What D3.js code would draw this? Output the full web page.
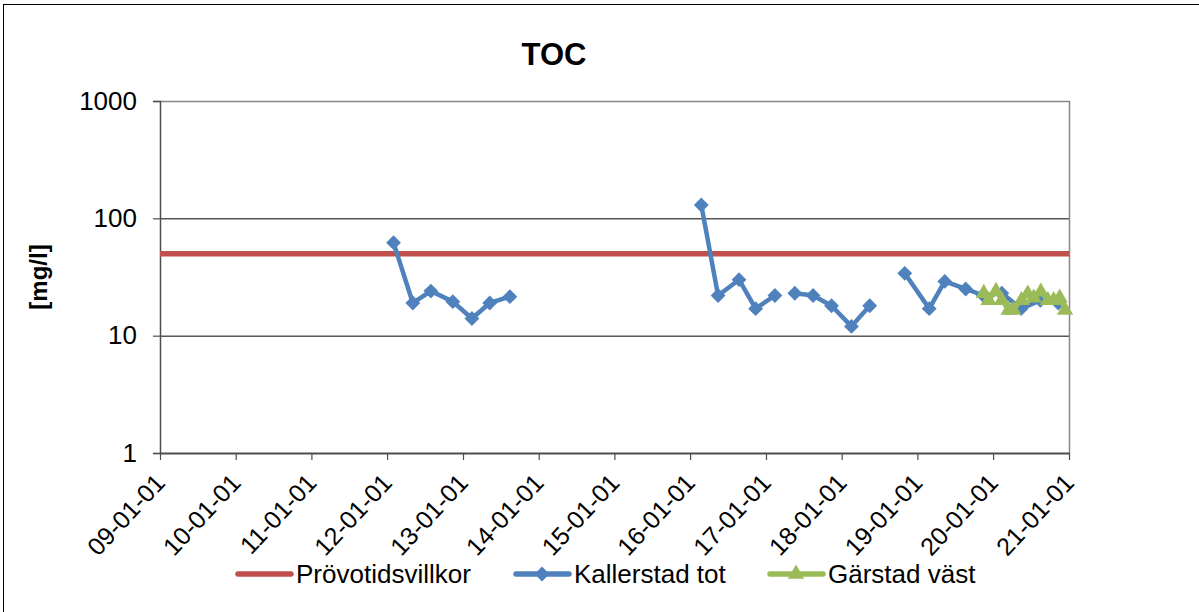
<!DOCTYPE html>
<meta charset="utf-8">
<title>TOC</title>
<style>
  body { margin: 0; background: #fff; }
  text { font-family: "Liberation Sans", Arial, sans-serif; fill: #000; }
</style>
<body>
<script src="https://d3js.org/d3.v7.min.js"></script>
<script>

var xTicks = ["2009-01-01","2010-01-01","2011-01-01","2012-01-01","2013-01-01","2014-01-01",
              "2015-01-01","2016-01-01","2017-01-01","2018-01-01","2019-01-01","2020-01-01","2021-01-01"];
var yTicks = [1, 10, 100, 1000];

var limitDates = ["2009-01-01", "2021-01-01"];
var limitValues = [50, 50];

// null = break in the line
var kallerstadDates = ["2012-02-01","2012-05-04","2012-07-30","2012-11-13","2013-02-13","2013-05-10","2013-08-15",
  "2013-11-15",
  "2016-02-24","2016-05-15","2016-08-24","2016-11-12","2017-02-13",
  "2017-03-20",
  "2017-05-20","2017-08-16","2017-11-13","2018-02-17","2018-05-16",
  "2018-08-15",
  "2018-11-01","2019-02-27","2019-05-13","2019-08-22","2019-11-15","2020-02-12","2020-05-15","2020-08-16","2020-11-10"];
var kallerstadValues = [62, 19, 24, 19.5, 14, 19, 21.5,
  null,
  130, 22, 30, 17, 22,
  null,
  23, 22, 18, 12, 18,
  null,
  34, 17, 29, 25, 22, 23, 17, 20, 19];

var garstadDates = ["2019-11-17","2019-12-10","2020-01-15","2020-02-12","2020-03-16","2020-04-07","2020-05-17",
  "2020-06-16","2020-07-15","2020-08-18","2020-09-21","2020-10-19","2020-11-17","2020-12-13"];
var garstadValues = [23, 20, 24, 20, 16.5, 16.5, 20, 22.7, 21, 23.6, 20, 20, 21, 16.5];

var W = 1199, H = 612;
var svg = d3.select('body').append('svg').attr('width', W).attr('height', H);

var parse = d3.timeParse('%Y-%m-%d');
var fmt = d3.timeFormat('%y-%m-%d');

var x = d3.scaleTime().domain([parse(xTicks[0]), parse(xTicks[xTicks.length - 1])]).range([160, 1069]);
var y = d3.scaleLog().domain([1, 1000]).range([453, 101]);

function pairs(dates, values) {
  return dates.map(function(d, i) { return {d: parse(d), v: values[i]}; });
}
var limit = pairs(limitDates, limitValues);
var kall = pairs(kallerstadDates, kallerstadValues);
var gars = pairs(garstadDates, garstadValues);

// outer chart border
svg.append('rect').attr('x', 3.5).attr('y', 4.5).attr('width', 1300).attr('height', 700)
  .attr('fill', 'none').attr('stroke', '#000').attr('stroke-width', 1);

svg.append('text').attr('x', 554).attr('y', 65).attr('text-anchor', 'middle')
  .style('font-size', '31px').style('font-weight', 'bold').text('TOC');

// gridlines
svg.append('g').selectAll('line').data([10, 100]).enter().append('line')
  .attr('x1', 160).attr('x2', 1069)
  .attr('y1', function(d) { return y(d) + 0.5; }).attr('y2', function(d) { return y(d) + 0.5; })
  .attr('stroke', '#000').attr('stroke-width', 1);

// plot frame top/right
svg.append('path').attr('d', 'M160,' + (y(1000) + 0.5) + 'H1069.5V453')
  .attr('fill', 'none').attr('stroke', '#868686').attr('stroke-width', 1.5);

// y axis
var yAxis = svg.append('g').attr('transform', 'translate(160,0)')
  .call(d3.axisLeft(y).tickValues(yTicks).tickFormat(d3.format('d')).tickSize(7).tickPadding(16));
yAxis.select('.domain').attr('stroke', '#4d4d4d').attr('stroke-width', 1.5);
yAxis.selectAll('.tick line').attr('stroke', '#4d4d4d').attr('stroke-width', 1.2);
yAxis.selectAll('text').style('font-size', '26px').attr('font-family', null);

// x axis
var xAxis = svg.append('g').attr('transform', 'translate(0,453)')
  .call(d3.axisBottom(x).tickValues(xTicks.map(parse)).tickFormat(fmt).tickSize(7).tickSizeOuter(0));
xAxis.select('.domain').attr('stroke', '#4d4d4d').attr('stroke-width', 2);
xAxis.selectAll('.tick line').attr('stroke', '#4d4d4d').attr('stroke-width', 1.2);
xAxis.selectAll('text').style('font-size', '25px').attr('font-family', null)
  .attr('text-anchor', 'end').attr('dy', null).attr('y', 0)
  .attr('transform', 'translate(6,31) rotate(-47)');

svg.append('text').attr('transform', 'translate(47,277) rotate(-90)').attr('text-anchor', 'middle')
  .style('font-size', '24px').style('font-weight', 'bold').text('[mg/l]');

var line = d3.line().defined(function(d) { return d.v != null; })
  .x(function(d) { return x(d.d); }).y(function(d) { return y(d.v); });

var red = '#C0504D', blue = '#4F81BD', green = '#9BBB59';

svg.append('path').datum(limit).attr('d', line).attr('fill', 'none')
  .attr('stroke', red).attr('stroke-width', 5.5);

var diamond = d3.symbol().type(d3.symbolSquare).size(110);
var triangle = d3.symbol().type(d3.symbolTriangle).size(115);

svg.append('path').datum(kall).attr('d', line).attr('fill', 'none')
  .attr('stroke', blue).attr('stroke-width', 4.5).attr('stroke-linejoin', 'round');
svg.append('g').selectAll('path').data(kall.filter(function(d) { return d.v != null; })).enter()
  .append('path').attr('d', diamond).attr('fill', blue)
  .attr('transform', function(d) { return 'translate(' + x(d.d) + ',' + y(d.v) + ') rotate(45)'; });

svg.append('path').datum(gars).attr('d', line).attr('fill', 'none')
  .attr('stroke', green).attr('stroke-width', 4.5).attr('stroke-linejoin', 'round');
svg.append('g').selectAll('path').data(gars).enter()
  .append('path').attr('d', triangle).attr('fill', green)
  .attr('transform', function(d) { return 'translate(' + x(d.d) + ',' + y(d.v) + ')'; });

// legend
var legend = [
  {name: 'Prövotidsvillkor', color: red, x: 238, mark: null},
  {name: 'Kallerstad tot', color: blue, x: 516, mark: diamond},
  {name: 'Gärstad väst', color: green, x: 770, mark: triangle}
];
var lg = svg.append('g').selectAll('g').data(legend).enter().append('g')
  .attr('transform', function(d) { return 'translate(' + d.x + ',574)'; });
lg.append('line').attr('x1', 0).attr('x2', 53).attr('stroke', function(d) { return d.color; })
  .attr('stroke-width', 5.5).attr('stroke-linecap', 'round');
lg.filter(function(d) { return d.mark; }).append('path')
  .attr('d', function(d) { return d.mark(); }).attr('fill', function(d) { return d.color; })
  .attr('transform', function(d) { return d.mark === diamond ? 'translate(26,0) rotate(45)' : 'translate(26,0)'; });
lg.append('text').attr('x', 58).attr('y', 9).style('font-size', '26px').text(function(d) { return d.name; });

</script>
</body>
